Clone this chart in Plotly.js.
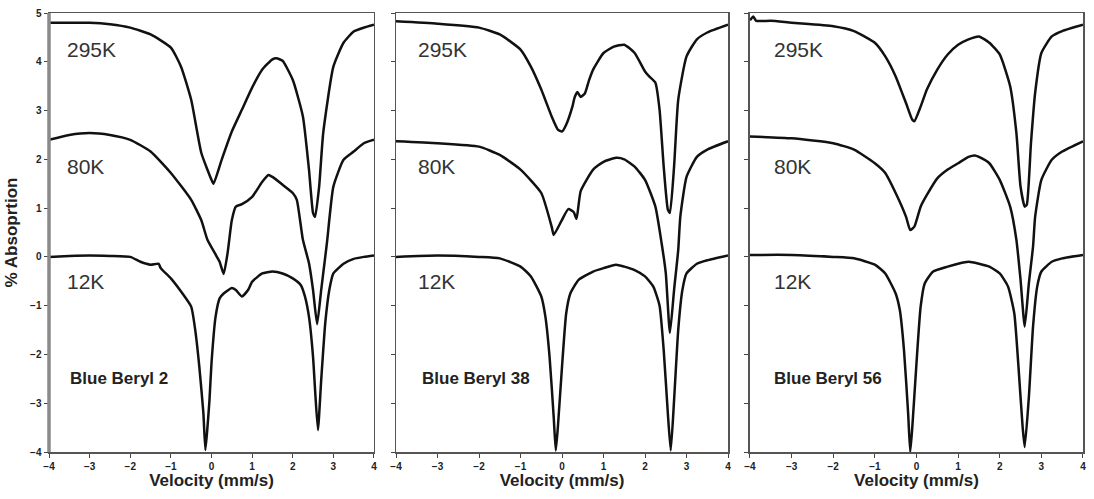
<!DOCTYPE html>
<html>
<head>
<meta charset="utf-8">
<script src="https://cdn.plot.ly/plotly-3.0.1.min.js"></script>
<style>html,body{margin:0;padding:0;background:#fff;}#chart{width:1094px;height:499px;}</style>
</head>
<body>
<div id="chart"></div>
<script>
// ---- Data ----
const panelNames = ["Blue Beryl 2", "Blue Beryl 38", "Blue Beryl 56"];
const tempLabels = ["295K", "80K", "12K"];
const tickVals = [-4, -3, -2, -1, 0, 1, 2, 3, 4];
const yTickVals = [-4, -3, -2, -1, 0, 1, 2, 3, 4, 5];

// Blue Beryl 2
const x295_1 = [-4,-3.5,-3,-2.5,-2,-1.5,-1,-0.75,-0.5,-0.25,0,0.05,0.25,0.5,0.75,1,1.25,1.5,1.6,1.75,2,2.25,2.4,2.5,2.55,2.65,2.75,3,3.25,3.5,3.75,4];
const y295_1 = [4.80,4.80,4.80,4.77,4.70,4.56,4.29,3.90,3.22,2.13,1.58,1.50,1.99,2.57,3.02,3.47,3.84,4.05,4.07,4.02,3.63,2.88,1.79,0.90,0.82,1.44,2.54,3.90,4.39,4.62,4.70,4.76];
const x80_1 = [-4,-3.5,-3,-2.5,-2,-1.5,-1,-0.5,-0.25,-0.1,0.1,0.2,0.3,0.4,0.5,0.6,0.75,1,1.25,1.4,1.5,1.75,2,2.1,2.25,2.4,2.5,2.6,2.7,2.8,2.85,3,3.25,3.5,3.75,4];
const y80_1 = [2.40,2.50,2.54,2.50,2.40,2.16,1.72,1.17,0.75,0.35,0.05,-0.10,-0.35,0.10,0.75,1.03,1.08,1.23,1.54,1.68,1.64,1.48,1.31,1.17,0.35,-0.13,-0.68,-1.38,-0.68,0.00,0.35,1.44,1.99,2.16,2.33,2.40];
const x12_1 = [-4,-3.5,-3,-2.5,-2,-1.75,-1.5,-1.3,-1.25,-1,-0.75,-0.5,-0.4,-0.3,-0.2,-0.15,-0.1,-0.05,0,0.1,0.2,0.3,0.5,0.6,0.75,0.9,1,1.25,1.5,1.75,2,2.2,2.3,2.4,2.5,2.55,2.62,2.7,2.8,2.9,3,3.25,3.5,3.75,4];
const y12_1 = [0.00,0.02,0.03,0.02,0.00,-0.10,-0.16,-0.14,-0.23,-0.44,-0.71,-1.02,-1.50,-2.25,-3.20,-3.96,-3.50,-2.94,-2.18,-1.23,-0.85,-0.75,-0.64,-0.68,-0.81,-0.68,-0.51,-0.34,-0.30,-0.34,-0.44,-0.58,-0.81,-1.23,-2.05,-2.73,-3.55,-2.53,-1.36,-0.68,-0.34,-0.14,-0.04,0.00,0.03];

// Blue Beryl 38
const x295_2 = [-4,-3,-2,-1.5,-1,-0.75,-0.5,-0.25,-0.1,0,0.1,0.25,0.3,0.37,0.45,0.55,0.65,0.75,1,1.25,1.5,1.75,2,2.1,2.25,2.35,2.45,2.55,2.6,2.7,2.8,3,3.25,3.5,4];
const y295_2 = [4.83,4.78,4.70,4.56,4.25,3.90,3.43,2.88,2.61,2.57,2.71,3.08,3.26,3.38,3.28,3.35,3.62,3.84,4.18,4.31,4.35,4.18,3.80,3.70,3.57,3.02,1.85,0.97,0.90,1.85,3.22,4.11,4.46,4.60,4.76];
const x80_2 = [-4,-3,-2,-1.5,-1,-0.5,-0.25,-0.2,0,0.15,0.28,0.35,0.45,0.75,1,1.3,1.5,1.75,2,2.25,2.4,2.5,2.6,2.7,2.8,2.85,3,3.25,3.5,4];
const y80_2 = [2.37,2.33,2.26,2.09,1.79,1.31,0.62,0.45,0.76,0.98,0.92,0.78,1.35,1.79,1.95,2.03,2.00,1.85,1.58,1.03,0.28,-0.33,-1.56,-0.68,0.14,0.82,1.64,2.05,2.20,2.37];
const x12_2 = [-4,-3,-2,-1.5,-1,-0.75,-0.5,-0.4,-0.3,-0.2,-0.15,-0.1,0,0.1,0.2,0.4,0.75,1,1.3,1.5,1.75,2,2.2,2.35,2.45,2.55,2.62,2.7,2.8,2.9,3,3.25,3.5,4];
const y12_2 = [0.00,0.03,0.00,-0.03,-0.20,-0.40,-0.81,-1.23,-2.05,-3.29,-3.97,-3.49,-2.25,-1.16,-0.75,-0.47,-0.30,-0.23,-0.16,-0.20,-0.27,-0.40,-0.61,-1.00,-1.91,-3.21,-3.97,-2.94,-1.50,-0.68,-0.34,-0.14,-0.07,0.03];

// Blue Beryl 56
const x295_3 = [-4,-3.92,-3.85,-3.5,-3,-2,-1.5,-1,-0.75,-0.5,-0.25,-0.1,-0.05,0.1,0.25,0.5,0.75,1,1.25,1.5,1.75,2,2.25,2.4,2.5,2.6,2.65,2.75,2.85,3,3.25,3.5,4];
const y295_3 = [4.85,4.93,4.84,4.84,4.80,4.73,4.63,4.39,4.11,3.70,3.15,2.81,2.78,3.08,3.43,3.84,4.15,4.35,4.46,4.52,4.39,4.15,3.50,2.54,1.44,1.03,1.07,2.33,3.36,4.18,4.52,4.63,4.76];
const x80_3 = [-4,-3,-2,-1.5,-1,-0.75,-0.5,-0.25,-0.15,-0.05,0.1,0.25,0.5,0.75,1,1.25,1.4,1.5,1.75,2,2.25,2.4,2.5,2.6,2.7,2.8,2.85,3,3.25,3.5,4];
const y80_3 = [2.47,2.43,2.33,2.20,1.92,1.72,1.31,0.82,0.55,0.62,1.03,1.27,1.61,1.79,1.92,2.05,2.08,2.05,1.92,1.58,1.03,0.35,-0.47,-1.43,-0.54,0.21,0.82,1.58,1.99,2.16,2.37];
const x12_3 = [-4,-3,-2,-1.5,-1,-0.75,-0.5,-0.4,-0.3,-0.2,-0.15,-0.1,0,0.1,0.2,0.4,0.75,1,1.25,1.5,1.75,2,2.2,2.35,2.45,2.55,2.6,2.7,2.8,2.9,3,3.25,3.5,4];
const y12_3 = [0.04,0.04,0.00,-0.03,-0.16,-0.34,-0.75,-1.09,-1.91,-3.21,-4.00,-3.49,-2.18,-1.02,-0.54,-0.30,-0.20,-0.14,-0.10,-0.14,-0.20,-0.34,-0.61,-1.16,-2.25,-3.49,-3.90,-2.87,-1.43,-0.61,-0.30,-0.10,-0.03,0.04];

// ---- Build traces ----
const series = [
  [[x295_1, y295_1], [x80_1, y80_1], [x12_1, y12_1]],
  [[x295_2, y295_2], [x80_2, y80_2], [x12_2, y12_2]],
  [[x295_3, y295_3], [x80_3, y80_3], [x12_3, y12_3]]
];
const traces = [];
series.forEach((panel, p) => {
  const sfx = p === 0 ? "" : String(p + 1);
  panel.forEach((s, k) => {
    traces.push({
      x: s[0], y: s[1], type: "scatter", mode: "lines",
      xaxis: "x" + sfx, yaxis: "y" + sfx,
      name: panelNames[p] + " " + tempLabels[k],
      line: {color: "#111", width: 2.5, shape: "spline", smoothing: 0.5},
      showlegend: false, hoverinfo: "skip"
    });
  });
});

const tickFont = {family: "Liberation Sans, Arial, sans-serif", size: 10, color: "#222", weight: "bold"};
const titleFont = {family: "Liberation Sans, Arial, sans-serif", size: 17, color: "#222", weight: "bold"};
const domains = [[0, 0.3143], [0.3356, 0.6567], [0.6779, 1]];

const layout = {
  width: 1094, height: 499,
  margin: {l: 49, r: 11, t: 13, b: 47},
  paper_bgcolor: "#fff", plot_bgcolor: "#fff",
  showlegend: false,
  annotations: [], shapes: []
};

const labelY = [4.25, 1.85, -0.51];
const labelX = [-3.6, -3.52, -3.47];
const nameX = [-3.53, -3.42, -3.47];

for (let p = 0; p < 3; p++) {
  const sfx = p === 0 ? "" : String(p + 1);
  layout["xaxis" + sfx] = {
    domain: domains[p], range: [-4, 4], anchor: "y" + sfx,
    tickvals: tickVals, ticks: "outside", ticklen: 4, tickwidth: 1, tickcolor: "#444",
    showline: true, mirror: true, linecolor: "#555", linewidth: 1.5,
    showgrid: false, zeroline: false, tickfont: tickFont,
    title: {text: "Velocity (mm/s)", font: titleFont, standoff: 1}
  };
  layout["yaxis" + sfx] = {
    domain: [0, 1], range: [-4, 5], anchor: "x" + sfx,
    tickvals: yTickVals, ticks: "outside", ticklen: 4, tickwidth: 1, tickcolor: "#444",
    showline: true, mirror: true, linecolor: "#555", linewidth: 1.5,
    showgrid: false, zeroline: false, tickfont: tickFont,
    showticklabels: p === 0,
    title: p === 0 ? {text: "% Absoprtion", font: titleFont, standoff: 8} : {text: ""}
  };
  tempLabels.forEach((t, k) => {
    layout.annotations.push({
      xref: "x" + sfx, yref: "y" + sfx, x: labelX[p], y: labelY[k],
      xanchor: "left", yanchor: "middle", showarrow: false, text: t,
      font: {family: "Liberation Sans, Arial, sans-serif", size: 21, color: "#333"}
    });
  });
  layout.annotations.push({
    xref: "x" + sfx, yref: "y" + sfx, x: nameX[p], y: -2.5,
    xanchor: "left", yanchor: "middle", showarrow: false, text: panelNames[p],
    font: {family: "Liberation Sans, Arial, sans-serif", size: 17, color: "#222", weight: "bold"}
  });
}
layout.shapes.push({type: "line", xref: "paper", yref: "paper", x0: 0, x1: 0, y0: 0, y1: 1,
  line: {color: "#8a8a8a", width: 3.5}});

Plotly.newPlot("chart", traces, layout, {displayModeBar: false, staticPlot: true});
</script>
</body>
</html>
